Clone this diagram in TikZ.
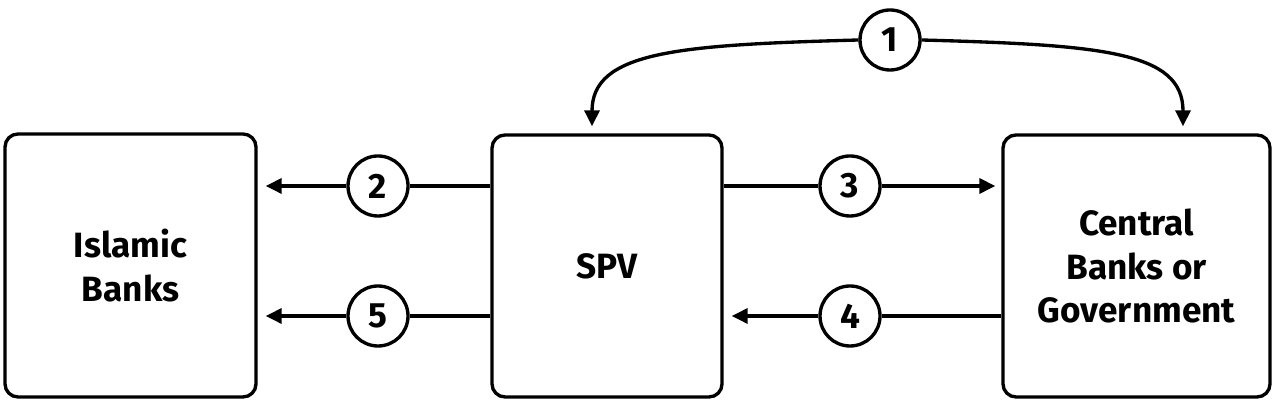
\documentclass[tikz,border=0pt]{standalone}
\usepackage{fontspec}
\setmainfont{Fira Sans}
\usetikzlibrary{arrows.meta}

\tikzset{
  box/.style={draw, line width=0.95pt, rounded corners=0.13cm, align=center,
    font=\fontsize{10}{12.5}\selectfont\bfseries},
  num/.style={draw, circle, fill=white, line width=0.95pt, minimum size=0.6cm,
    inner sep=0pt, font=\fontsize{10}{12}\selectfont\bfseries},
  line/.style={line width=0.95pt},
  flow/.style={line, -{Triangle[length=0.16cm,width=0.15cm]}}
}

\begin{document}
\begin{tikzpicture}
  % 边界
  \useasboundingbox (0,0) rectangle (12.74,4.02);

  % 方框
  \node[box, minimum width=2.51cm, minimum height=2.63cm] (islamic) at (1.305, 1.365) {Islamic\\Banks};
  \node[box, minimum width=2.30cm, minimum height=2.62cm] (spv) at (6.07, 1.36) {SPV};
  \node[box, minimum width=2.67cm, minimum height=2.62cm] (central) at (11.365, 1.36) {Central\\Banks or\\Government};

  % 圆圈编号
  \node[num] (n1) at (8.90, 3.62) {1};
  \node[num] (n2) at (3.78, 2.16) {2};
  \node[num] (n3) at (8.50, 2.16) {3};
  \node[num] (n4) at (8.50, 0.86) {4};
  \node[num] (n5) at (3.78, 0.86) {5};

  % 箭头尖端
  \coordinate (t1) at ([xshift=-0.15cm, yshift=0.07cm]spv.north);
  \coordinate (t2) at ([xshift=0.465cm, yshift=0.07cm]central.north);

  % 弧形箭头
  \draw[flow] (n1.west) .. controls +(-1.8,-0.05) and +(0,0.75) .. (t1);
  \draw[flow] (n1.east) .. controls +(1.8,-0.05) and +(0,0.75) .. (t2);

  % 水平箭头
  \draw[line] (spv.west |- n2) -- (n2);
  \draw[flow, shorten >=0.08cm] (n2) -- (islamic.east |- n2);
  \draw[line] (spv.west |- n5) -- (n5);
  \draw[flow, shorten >=0.08cm] (n5) -- (islamic.east |- n5);
  \draw[line] (spv.east |- n3) -- (n3);
  \draw[flow, shorten >=0.06cm] (n3) -- (central.west |- n3);
  \draw[line] (central.west |- n4) -- (n4);
  \draw[flow, shorten >=0.08cm] (n4) -- (spv.east |- n4);

\end{tikzpicture}
\end{document}
